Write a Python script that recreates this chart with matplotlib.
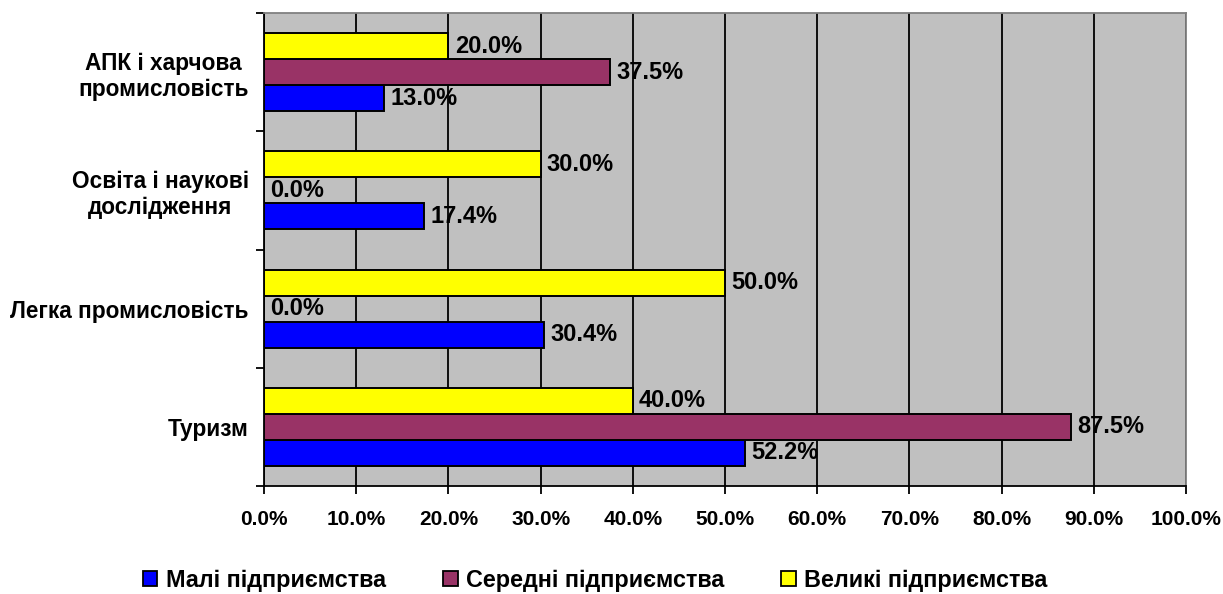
import matplotlib
matplotlib.use("Agg")
import matplotlib.pyplot as plt
import numpy as np
from matplotlib.patches import Patch

plt.rcParams['font.family'] = ['Liberation Sans', 'DejaVu Sans']
plt.rcParams['font.weight'] = 'bold'

categories = ["Туризм", "Легка промисловість", "Освіта і наукові\nдослідження",
              "АПК і харчова\nпромисловість"]
series_names = ["Малі підприємства", "Середні підприємства", "Великі підприємства"]
small = [52.2, 30.4, 17.4, 13.0]
medium = [87.5, 0.0, 0.0, 37.5]
large = [40.0, 50.0, 30.0, 20.0]
xticks = [0, 10, 20, 30, 40, 50, 60, 70, 80, 90, 100]
colors = ["#0000FF", "#993366", "#FFFF00"]

fig = plt.figure(figsize=(12.23, 5.94), dpi=100)
ax = fig.add_axes([264/1223, 1-486/594, (1186-264)/1223, (486-13)/594])
ax.set_facecolor("#C0C0C0")

y = np.arange(len(categories))
h = 0.22
offsets = [-h, 0, h]
for vals, off, col in zip([small, medium, large], offsets, colors):
    bars = ax.barh(y + off, vals, height=h, color=col, edgecolor="black", linewidth=1.4, zorder=3)
    for b, v in zip(bars, vals):
        ax.annotate(f"{v:.1f}%", xy=(v, b.get_y() + b.get_height()/2), xytext=(4.5, 0),
                    textcoords="offset points", ha="left", va="center",
                    fontsize=17, fontweight="bold", zorder=5)

ax.set_xlim(0, 100)
ax.set_ylim(-0.5, len(categories) - 0.5)
ax.set_xticks(xticks)
ax.set_xticklabels([f"{t:.1f}%" for t in xticks], fontsize=15, fontweight="bold")
ax.xaxis.grid(True, color="black", linewidth=1.3, zorder=1)
ax.set_axisbelow(True)
ax.tick_params(axis="x", length=6, width=1.3, direction="out", pad=11, color="black")

ax.set_yticks(np.arange(-0.5, len(categories), 1.0))
ax.set_yticklabels([])
ax.tick_params(axis="y", which="major", length=6, width=1.3, direction="out")
ax.set_yticks(y, minor=True)
ax.set_yticklabels(categories, minor=True, fontsize=16.3, fontweight="bold")
ax.tick_params(axis="y", which="minor", length=0, pad=11)
for lbl in ax.get_yticklabels(minor=True):
    lbl.set_multialignment("center")

for s in ["left", "bottom"]:
    ax.spines[s].set_color("black")
    ax.spines[s].set_linewidth(1.3)
for s in ["top", "right"]:
    ax.spines[s].set_color("#808080")
    ax.spines[s].set_linewidth(1.3)

handles = [Patch(facecolor=c, edgecolor="black", linewidth=1.3) for c in colors]
fig.legend(handles, series_names, loc="center left", bbox_to_anchor=(143/1223, 1-580/594),
           ncol=3, frameon=False, prop={"size": 16.8, "weight": "bold"},
           borderpad=0, borderaxespad=0,
           handlelength=0.62, handleheight=0.62, handletextpad=0.36, columnspacing=2.45)

fig.savefig("out.png", dpi=100)
